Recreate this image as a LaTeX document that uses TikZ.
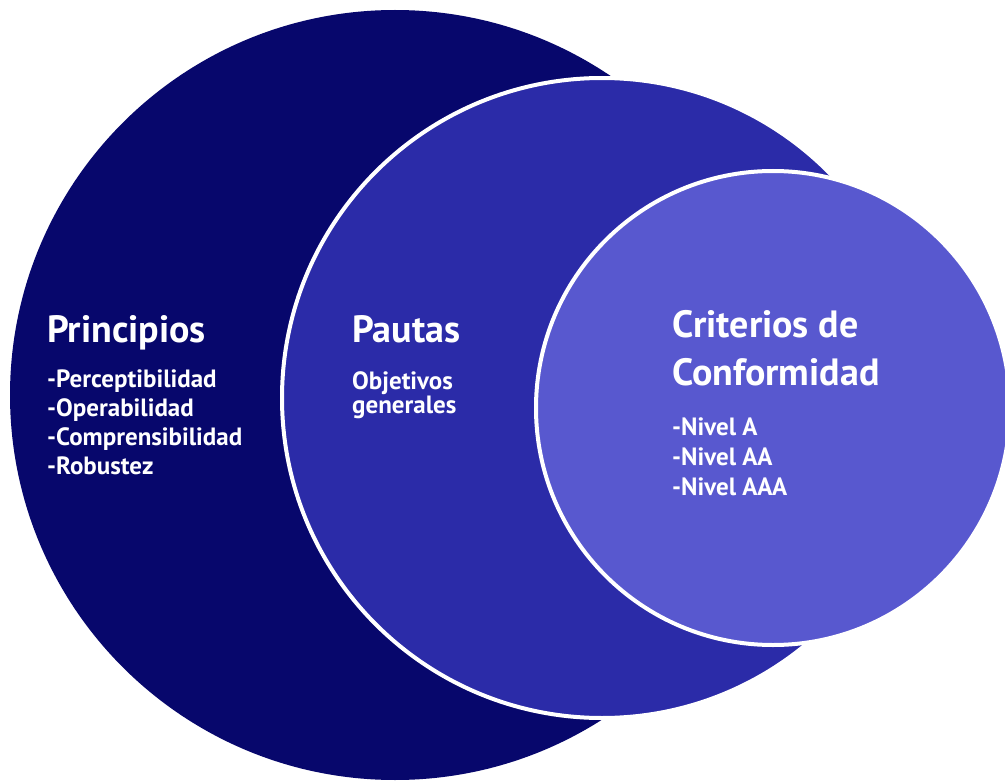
\documentclass[tikz,border=0pt]{standalone}
\usepackage{fontspec}
\setmainfont{PT Sans}
\definecolor{navy}{HTML}{07076C}
\definecolor{midblue}{HTML}{2B2BA8}
\definecolor{lightblue}{HTML}{5858CF}

\begin{document}
\begin{tikzpicture}[x=1pt,y=-1pt,
    heading/.style={anchor=base west,inner sep=0pt,text=white,font=\bfseries\fontsize{38}{44}\selectfont},
    item/.style={anchor=base west,inner sep=0pt,text=white,font=\bfseries\fontsize{25}{29}\selectfont}]
    % Page frame
    \fill[white] (0,0) rectangle (1005,781);
    \useasboundingbox (0,0) rectangle (1005,781);

    % Draw the three circles
    \fill[navy] (395,395) circle [radius=385pt];
    \filldraw[fill=midblue,draw=white,line width=4pt] (602,398) circle [radius=320pt];
    \filldraw[fill=lightblue,draw=white,line width=4pt] (773,408) circle [radius=237pt];

    % Principios
    \node[heading] (princ) at (47,342) {Principios};
    \foreach \txt [count=\i] in {-Perceptibilidad,-Operabilidad,-Comprensibilidad,-Robustez}
        \node[item] (princ\i) at (47,358+29*\i) {\txt};

    % Pautas
    \node[heading] (paut) at (352,342) {Pautas};
    \node[item] (paut1) at (352,389) {Objetivos};
    \node[item] (paut2) at (352,413) {generales};

    % Criterios de conformidad
    \node[heading] (crit1) at (672,337) {Criterios de};
    \node[heading] (crit2) at (672,385) {Conformidad};
    \foreach \txt [count=\i] in {-Nivel A,-Nivel AA,-Nivel AAA}
        \node[item] (niv\i) at (672,405+30*\i) {\txt};
\end{tikzpicture}
\end{document}
